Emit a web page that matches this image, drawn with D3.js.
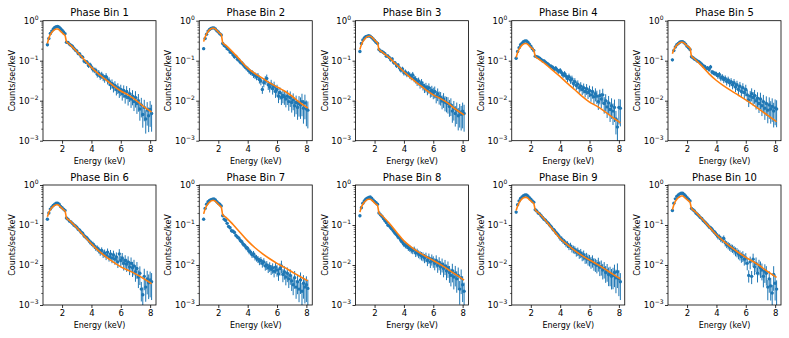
<!DOCTYPE html>
<html>
<head>
<meta charset="utf-8">
<script src="https://cdn.jsdelivr.net/npm/d3@7"></script>
<style>
body { margin: 0; background: #fff; }
text { font-family: 'DejaVu Sans', sans-serif; fill: #000; }
.tick text { font-size: 8.5px; }
.axis-label { font-size: 8px; }
.panel-title { font-size: 10px; }
</style>
</head>
<body>
<div id="chart"></div>
<script>
// energy bins (keV)
var energies = [1.0,1.1,1.2,1.3,1.4,1.5,1.6,1.7,1.8,1.9,
  2.0,2.1,2.2,2.3,2.4,2.5,2.6,2.7,2.8,2.9,
  3.0,3.1,3.2,3.3,3.4,3.5,3.6,3.7,3.8,3.9,
  4.0,4.1,4.2,4.3,4.4,4.5,4.6,4.7,4.8,4.9,
  5.0,5.1,5.2,5.3,5.4,5.5,5.6,5.7,5.8,5.9,
  6.0,6.1,6.2,6.3,6.4,6.5,6.6,6.7,6.8,6.9,
  7.0,7.1,7.2,7.3,7.4,7.5,7.6,7.7,7.8,7.9,8.0,8.1];
var binHalfWidth = 0.05;

// fractional error on each bin
var relErr = [0.08,0.06,0.05,0.05,0.04,0.04,0.04,0.04,0.04,0.04,
  0.04,0.04,0.04,0.06,0.06,0.07,0.07,0.08,0.08,0.09,
  0.09,0.10,0.10,0.11,0.11,0.12,0.12,0.13,0.13,0.14,
  0.15,0.16,0.16,0.17,0.18,0.19,0.19,0.20,0.21,0.22,
  0.22,0.23,0.24,0.25,0.26,0.27,0.28,0.29,0.30,0.31,
  0.32,0.33,0.34,0.35,0.36,0.37,0.38,0.40,0.41,0.42,
  0.44,0.45,0.47,0.49,0.51,0.53,0.55,0.57,0.59,0.61,0.63,0.65];

// observed counts/sec/keV per phase bin
var counts1 = [0.25,0.36,0.48,0.55,0.62,0.68,0.71,0.72,0.69,0.63,
  0.58,0.52,0.47,0.29,0.285,0.26,0.245,0.23,0.205,0.185,
  0.175,0.152,0.148,0.128,0.122,0.098,0.094,0.092,0.076,0.079,
  0.07,0.061,0.058,0.057,0.046,0.049,0.041,0.044,0.039,0.036,
  0.04,0.033,0.031,0.025,0.027,0.022,0.024,0.019,0.021,0.017,
  0.019,0.015,0.018,0.013,0.017,0.012,0.015,0.011,0.013,0.0095,
  0.012,0.0085,0.01,0.0062,0.0078,0.0045,0.0068,0.0035,0.0058,0.0042,0.006,0.0048];
var counts2 = [0.2,0.36,0.46,0.55,0.6,0.64,0.66,0.66,0.62,0.56,
  0.52,0.47,0.44,0.27,0.24,0.225,0.2,0.19,0.165,0.16,
  0.14,0.125,0.128,0.108,0.104,0.092,0.088,0.079,0.072,0.066,
  0.062,0.055,0.052,0.05,0.045,0.043,0.04,0.041,0.034,0.031,
  0.019,0.028,0.033,0.036,0.025,0.022,0.026,0.02,0.023,0.017,
  0.019,0.013,0.016,0.012,0.0135,0.0125,0.011,0.013,0.0095,0.012,
  0.009,0.0105,0.0075,0.009,0.0068,0.0085,0.0078,0.0095,0.0065,0.0088,0.0062,0.0058];
var counts3 = [0.17,0.27,0.33,0.37,0.4,0.41,0.42,0.41,0.38,0.35,
  0.32,0.29,0.27,0.19,0.175,0.17,0.16,0.15,0.13,0.132,
  0.12,0.105,0.11,0.09,0.088,0.075,0.078,0.066,0.058,0.062,
  0.05,0.052,0.046,0.047,0.043,0.04,0.044,0.036,0.034,0.03,
  0.031,0.026,0.028,0.024,0.021,0.022,0.019,0.021,0.017,0.018,
  0.016,0.017,0.013,0.015,0.0125,0.012,0.0098,0.011,0.0092,0.0088,
  0.0085,0.0072,0.0078,0.0055,0.0065,0.0048,0.0058,0.0042,0.0052,0.0046,0.0055,0.0048];
var counts4 = [0.115,0.17,0.21,0.25,0.275,0.3,0.31,0.31,0.29,0.26,
  0.23,0.2,0.18,0.13,0.125,0.122,0.115,0.108,0.1,0.098,
  0.092,0.085,0.081,0.074,0.072,0.068,0.062,0.065,0.058,0.054,
  0.057,0.05,0.044,0.047,0.041,0.036,0.04,0.033,0.035,0.027,
  0.03,0.024,0.026,0.021,0.023,0.019,0.021,0.017,0.02,0.016,
  0.018,0.014,0.017,0.0125,0.015,0.013,0.0095,0.0135,0.011,0.014,
  0.0085,0.01,0.007,0.0088,0.006,0.0075,0.0055,0.0068,0.0035,0.0022,0.0068,0.0065];
var counts5 = [0.105,0.18,0.22,0.25,0.27,0.29,0.3,0.3,0.28,0.26,
  0.23,0.21,0.19,0.125,0.118,0.11,0.105,0.098,0.095,0.088,
  0.082,0.074,0.072,0.064,0.066,0.06,0.07,0.052,0.05,0.048,
  0.046,0.042,0.045,0.037,0.039,0.034,0.036,0.03,0.033,0.028,
  0.03,0.025,0.028,0.022,0.025,0.019,0.023,0.017,0.021,0.016,
  0.019,0.014,0.0105,0.013,0.015,0.012,0.0135,0.01,0.0115,0.0085,
  0.011,0.0075,0.0095,0.0065,0.0085,0.0058,0.0078,0.0062,0.0072,0.0055,0.0066,0.0062];
var counts6 = [0.14,0.2,0.25,0.28,0.31,0.33,0.35,0.35,0.33,0.29,
  0.27,0.25,0.23,0.15,0.14,0.125,0.12,0.11,0.1,0.094,
  0.088,0.078,0.074,0.066,0.062,0.054,0.05,0.047,0.042,0.038,
  0.035,0.033,0.03,0.027,0.026,0.024,0.021,0.023,0.019,0.02,
  0.017,0.021,0.016,0.019,0.015,0.018,0.014,0.016,0.012,0.019,
  0.013,0.015,0.011,0.013,0.0105,0.012,0.009,0.011,0.0085,0.0095,
  0.0068,0.0082,0.005,0.0062,0.0025,0.0018,0.0052,0.0028,0.0045,0.0036,0.0042,0.0038];
var counts7 = [0.14,0.26,0.33,0.38,0.41,0.43,0.44,0.45,0.42,0.38,
  0.35,0.33,0.3,0.17,0.14,0.13,0.11,0.092,0.085,0.072,
  0.07,0.065,0.055,0.05,0.047,0.041,0.038,0.033,0.031,0.027,
  0.026,0.022,0.021,0.018,0.019,0.016,0.015,0.014,0.0125,0.013,
  0.011,0.012,0.0095,0.01,0.0085,0.0092,0.0078,0.0085,0.007,0.0088,
  0.0075,0.006,0.0082,0.0095,0.0058,0.0068,0.005,0.0062,0.0045,0.0055,
  0.004,0.0032,0.0048,0.0028,0.0038,0.0025,0.0042,0.0022,0.0035,0.0028,0.0032,0.0026];
var counts8 = [0.17,0.27,0.35,0.4,0.44,0.47,0.49,0.5,0.47,0.42,
  0.39,0.36,0.33,0.2,0.18,0.165,0.145,0.13,0.115,0.1,
  0.095,0.085,0.078,0.07,0.062,0.057,0.05,0.047,0.041,0.037,
  0.033,0.031,0.03,0.027,0.026,0.024,0.023,0.024,0.02,0.021,
  0.019,0.018,0.017,0.0165,0.015,0.016,0.013,0.015,0.012,0.014,
  0.0125,0.011,0.013,0.0098,0.0115,0.009,0.0105,0.0082,0.0095,0.0072,
  0.0085,0.0065,0.0055,0.0072,0.005,0.0062,0.0045,0.0055,0.0025,0.0048,0.0032,0.0022];
var counts9 = [0.21,0.32,0.4,0.46,0.5,0.54,0.56,0.56,0.53,0.48,
  0.44,0.4,0.37,0.24,0.225,0.2,0.19,0.17,0.155,0.14,
  0.132,0.118,0.11,0.098,0.09,0.079,0.074,0.065,0.06,0.054,
  0.047,0.045,0.04,0.038,0.034,0.033,0.029,0.03,0.026,0.025,
  0.024,0.021,0.022,0.019,0.02,0.017,0.018,0.015,0.0155,0.014,
  0.0135,0.012,0.013,0.011,0.0105,0.0098,0.011,0.0088,0.0092,0.0075,
  0.0082,0.0065,0.0072,0.0058,0.006,0.0052,0.0055,0.0065,0.0048,0.0068,0.0045,0.0038];
var counts10 = [0.23,0.35,0.45,0.52,0.56,0.6,0.62,0.62,0.58,0.53,
  0.48,0.44,0.4,0.26,0.24,0.225,0.2,0.185,0.17,0.155,
  0.145,0.13,0.12,0.11,0.1,0.09,0.085,0.078,0.07,0.065,
  0.058,0.052,0.05,0.045,0.043,0.046,0.036,0.033,0.031,0.029,
  0.027,0.026,0.024,0.022,0.021,0.019,0.018,0.016,0.017,0.014,
  0.015,0.011,0.0055,0.012,0.0052,0.014,0.009,0.011,0.0062,0.0095,
  0.0085,0.0075,0.0052,0.007,0.0062,0.0028,0.0045,0.003,0.002,0.0058,0.0035,0.0025];

// fitted model, sampled at these energies
var modelEnergies = [1.0,1.1,1.2,1.3,1.4,1.5,1.6,1.7,1.8,1.9,2.0,2.1,2.2,
  2.3,2.5,3.0,3.5,4.0,4.5,5.0,5.5,6.0,6.5,7.0,7.5,8.1];
var model1 = [0.27,0.37,0.45,0.51,0.56,0.60,0.62,0.62,0.59,0.54,0.50,0.46,0.43,
  0.30,0.26,0.17,0.107,0.068,0.046,0.033,0.0235,0.0175,0.014,0.0105,0.0074,0.0052];
var model2 = [0.30,0.39,0.47,0.54,0.59,0.63,0.65,0.65,0.62,0.57,0.52,0.48,0.45,
  0.28,0.245,0.161,0.103,0.065,0.0476,0.0366,0.0278,0.022,0.0175,0.0131,0.0093,0.0065];
var model3 = [0.19,0.25,0.30,0.34,0.37,0.40,0.41,0.41,0.39,0.36,0.33,0.30,0.28,
  0.19,0.167,0.119,0.079,0.053,0.036,0.026,0.0187,0.014,0.0113,0.0087,0.0062,0.0044];
var model4 = [0.12,0.16,0.195,0.22,0.245,0.26,0.27,0.27,0.255,0.235,0.215,0.20,0.185,
  0.13,0.112,0.082,0.057,0.040,0.027,0.0188,0.0128,0.0092,0.0073,0.0055,0.0040,0.0028];
var model5 = [0.15,0.19,0.22,0.245,0.265,0.28,0.29,0.29,0.275,0.255,0.235,0.22,0.205,
  0.13,0.112,0.074,0.047,0.032,0.0235,0.0178,0.0137,0.0105,0.0079,0.0058,0.0043,0.0030];
var model6 = [0.16,0.205,0.24,0.27,0.29,0.31,0.32,0.32,0.305,0.28,0.26,0.24,0.225,
  0.15,0.13,0.085,0.053,0.034,0.0225,0.016,0.0118,0.009,0.0074,0.006,0.0047,0.0034];
var model7 = [0.19,0.25,0.30,0.34,0.37,0.40,0.41,0.41,0.39,0.36,0.33,0.30,0.28,
  0.18,0.158,0.103,0.064,0.040,0.027,0.0193,0.0143,0.011,0.0087,0.0068,0.0053,0.004];
var model8 = [0.21,0.28,0.33,0.37,0.40,0.43,0.44,0.44,0.42,0.39,0.355,0.33,0.31,
  0.20,0.173,0.11,0.066,0.040,0.028,0.021,0.0163,0.013,0.0102,0.0078,0.0059,0.0042];
var model9 = [0.23,0.30,0.36,0.41,0.45,0.48,0.49,0.49,0.47,0.43,0.40,0.37,0.345,
  0.24,0.205,0.13,0.077,0.046,0.032,0.023,0.0172,0.0133,0.0105,0.0081,0.0062,0.0045];
var model10 = [0.24,0.32,0.39,0.44,0.48,0.51,0.53,0.53,0.50,0.46,0.43,0.40,0.37,
  0.26,0.225,0.145,0.091,0.057,0.039,0.028,0.0205,0.0155,0.0122,0.0093,0.0068,0.0049];

var panelTitles = ['Phase Bin 1','Phase Bin 2','Phase Bin 3','Phase Bin 4','Phase Bin 5',
  'Phase Bin 6','Phase Bin 7','Phase Bin 8','Phase Bin 9','Phase Bin 10'];
var allCounts = [counts1,counts2,counts3,counts4,counts5,counts6,counts7,counts8,counts9,counts10];
var allModels = [model1,model2,model3,model4,model5,model6,model7,model8,model9,model10];
var xTicks = [2, 4, 6, 8];
var yMajor = [1e-3, 1e-2, 1e-1, 1];
var yExp = ['\u22123', '\u22122', '\u22121', '0'];
var yMinor = [];
[1e-3, 1e-2, 1e-1].forEach(function(d) {
    for (var k = 2; k <= 9; k++) yMinor.push(d * k);
});

var blue = '#1f77b4', orange = '#ff7f0e';
var panelWidth = 113, panelHeight = 120;
var panelLefts = [43, 199.25, 355.5, 511.75, 668];
var panelTops = [20.7, 185];

var svg = d3.select('#chart')
    .append('svg')
    .attr('width', 789)
    .attr('height', 338);

svg.append('rect')
    .attr('width', 789)
    .attr('height', 338)
    .attr('fill', '#fff');

var x = d3.scaleLinear().domain([0.7, 8.4]).range([0, panelWidth]);
var y = d3.scaleLog().domain([1e-3, 1]).range([panelHeight, 0]);

var modelLine = d3.line()
    .x(function(d) { return x(d[0]); })
    .y(function(d) { return y(d[1]); })
    .curve(d3.curveMonotoneX);

panelTitles.forEach(function(title, i) {
    var col = i % 5, row = Math.floor(i / 5);
    var g = svg.append('g')
        .attr('transform', 'translate(' + panelLefts[col] + ',' + panelTops[row] + ')');

    var pts = energies.map(function(e, j) {
        var v = allCounts[i][j];
        return { e: e, v: v, err: v * relErr[j] };
    });

    g.append('clipPath')
        .attr('id', 'clip' + i)
        .append('rect')
        .attr('width', panelWidth)
        .attr('height', panelHeight);

    var plot = g.append('g').attr('clip-path', 'url(#clip' + i + ')');

    // error bars
    plot.selectAll('.yerr')
        .data(pts)
        .enter().append('line')
        .attr('class', 'yerr')
        .attr('x1', function(d) { return x(d.e); })
        .attr('x2', function(d) { return x(d.e); })
        .attr('y1', function(d) { return y(d.v + d.err); })
        .attr('y2', function(d) { return y(Math.max(d.v - d.err, 1e-4)); })
        .style('stroke', blue)
        .style('stroke-width', 1);

    plot.selectAll('.xerr')
        .data(pts)
        .enter().append('line')
        .attr('class', 'xerr')
        .attr('x1', function(d) { return x(d.e - binHalfWidth); })
        .attr('x2', function(d) { return x(d.e + binHalfWidth); })
        .attr('y1', function(d) { return y(d.v); })
        .attr('y2', function(d) { return y(d.v); })
        .style('stroke', blue)
        .style('stroke-width', 1);

    plot.selectAll('.pt')
        .data(pts)
        .enter().append('circle')
        .attr('class', 'pt')
        .attr('cx', function(d) { return x(d.e); })
        .attr('cy', function(d) { return y(d.v); })
        .attr('r', 1.7)
        .style('fill', blue);

    // model on top
    plot.append('path')
        .datum(modelEnergies.map(function(e, j) { return [e, allModels[i][j]]; }))
        .attr('d', modelLine)
        .style('fill', 'none')
        .style('stroke', orange)
        .style('stroke-width', 1.6);

    // axes
    var xAxis = g.append('g')
        .attr('transform', 'translate(0,' + panelHeight + ')')
        .call(d3.axisBottom(x).tickValues(xTicks).tickSize(3).tickPadding(2).tickFormat(d3.format('d')));
    xAxis.select('.domain').remove();
    xAxis.selectAll('.tick line').style('stroke-width', 0.8);

    var yAxis = g.append('g')
        .call(d3.axisLeft(y).tickValues(yMajor).tickSize(3).tickFormat(''));
    yAxis.select('.domain').remove();
    yAxis.selectAll('.tick line').style('stroke-width', 0.8);

    var yMinorAxis = g.append('g')
        .call(d3.axisLeft(y).tickValues(yMinor).tickSize(1.8).tickFormat(''));
    yMinorAxis.select('.domain').remove();
    yMinorAxis.selectAll('.tick line').style('stroke-width', 0.6);

    var yLabels = g.selectAll('.ylab')
        .data(yMajor)
        .enter().append('text')
        .attr('class', 'ylab')
        .attr('x', -4.5)
        .attr('y', function(d) { return y(d) + 3.2; })
        .style('text-anchor', 'end')
        .style('font-size', '8.5px');
    yLabels.append('tspan').text('10');
    yLabels.append('tspan')
        .attr('dy', -3.8)
        .style('font-size', '6px')
        .text(function(d, k) { return yExp[k]; });

    g.append('rect')
        .attr('width', panelWidth)
        .attr('height', panelHeight)
        .style('fill', 'none')
        .style('stroke', '#000')
        .style('stroke-width', 0.8);

    g.append('text')
        .attr('class', 'panel-title')
        .attr('x', panelWidth / 2)
        .attr('y', -4.5)
        .style('text-anchor', 'middle')
        .text(title);

    g.append('text')
        .attr('class', 'axis-label')
        .attr('x', panelWidth / 2)
        .attr('y', panelHeight + 23)
        .style('text-anchor', 'middle')
        .text('Energy (keV)');

    g.append('text')
        .attr('class', 'axis-label')
        .attr('transform', 'translate(-28,' + panelHeight / 2 + ') rotate(-90)')
        .style('text-anchor', 'middle')
        .text('Counts/sec/keV');
});
</script>
</body>
</html>
